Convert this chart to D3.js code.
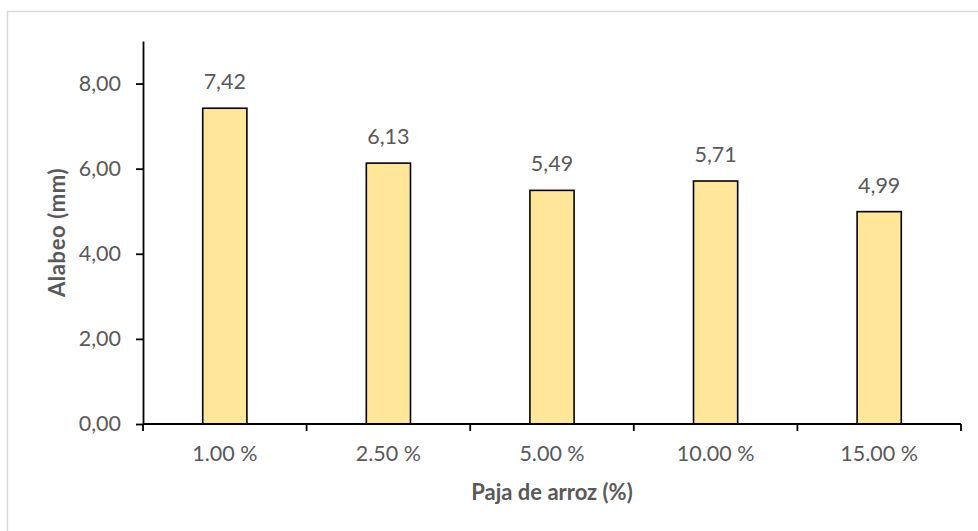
<!DOCTYPE html>
<html>
<head>
<meta charset="utf-8">
<script src="https://cdn.jsdelivr.net/npm/d3@7"></script>
<style>
  html, body { margin: 0; padding: 0; background: #fff; }
  svg { display: block; }
  text { font-family: Lato, "Open Sans", sans-serif; fill: #595959; }
</style>
</head>
<body>
<svg id="chart" width="978" height="531"></svg>
<script>
// Rice straw content (%) vs. warping (mm)
const categories = ["1.00 %", "2.50 %", "5.00 %", "10.00 %", "15.00 %"];
const alabeo = [7.42, 6.13, 5.49, 5.71, 4.99];
const yTicks = [0, 2, 4, 6, 8];

const svg = d3.select("#chart");
const W = 978, H = 531;
const margin = { left: 143, right: 17, top: 41, bottom: 107 };
const plotW = W - margin.left - margin.right;
const plotH = H - margin.top - margin.bottom;
const fontSize = "21.5px";

// chart area frame (left and top edges visible)
svg.append("rect")
  .attr("x", 7.5).attr("y", 11.5)
  .attr("width", W + 20).attr("height", H + 20)
  .attr("fill", "none")
  .attr("stroke", "#d9d9d9")
  .attr("stroke-width", 1.5);

const g = svg.append("g").attr("transform", `translate(${margin.left},${margin.top})`);

const x = d3.scaleBand().domain(categories).range([0, plotW]).paddingInner(0).paddingOuter(0);
const y = d3.scaleLinear().domain([0, 9]).range([plotH, 0]);
const fmt = v => d3.format(".2f")(v).replace(".", ",");

// bars
const barW = x.bandwidth() * 0.27;
g.selectAll("rect.bar")
  .data(categories.map((c, i) => ({ c, v: alabeo[i] })))
  .join("rect")
  .attr("class", "bar")
  .attr("x", d => x(d.c) + (x.bandwidth() - barW) / 2)
  .attr("y", d => y(d.v))
  .attr("width", barW)
  .attr("height", d => y(0) - y(d.v))
  .attr("fill", "#FFE699")
  .attr("stroke", "#000")
  .attr("stroke-width", 1.6);

// value labels
g.selectAll("text.val")
  .data(categories.map((c, i) => ({ c, v: alabeo[i] })))
  .join("text")
  .attr("class", "val")
  .attr("x", d => x(d.c) + x.bandwidth() / 2)
  .attr("y", d => y(d.v) - 19)
  .attr("text-anchor", "middle")
  .style("font-size", fontSize)
  .text(d => fmt(d.v));

// y axis
const yAxis = g.append("g")
  .call(d3.axisLeft(y).tickValues(yTicks).tickFormat(fmt).tickSize(7).tickPadding(15).tickSizeOuter(0));
yAxis.select(".domain").attr("stroke", "#000").attr("stroke-width", 1.8);
yAxis.selectAll(".tick line").attr("stroke", "#000").attr("stroke-width", 1.8);
yAxis.selectAll(".tick text").style("font-size", fontSize).attr("fill", "#595959")
  .style("font-family", "Lato, 'Open Sans', sans-serif");

// x axis with ticks at category boundaries
const xAxisG = g.append("g").attr("transform", `translate(0,${plotH})`);
xAxisG.append("line")
  .attr("x1", 0).attr("x2", plotW)
  .attr("stroke", "#000").attr("stroke-width", 1.8);
const bounds = categories.map(c => x(c)).concat([plotW]);
xAxisG.selectAll("line.tk")
  .data(bounds)
  .join("line")
  .attr("class", "tk")
  .attr("x1", d => d).attr("x2", d => d)
  .attr("y1", 0).attr("y2", 7)
  .attr("stroke", "#000").attr("stroke-width", 1.8);
xAxisG.selectAll("text.cat")
  .data(categories)
  .join("text")
  .attr("class", "cat")
  .attr("x", d => x(d) + x.bandwidth() / 2)
  .attr("y", 37)
  .attr("text-anchor", "middle")
  .style("font-size", fontSize)
  .text(d => d);

// axis titles
svg.append("text")
  .attr("x", margin.left + plotW / 2)
  .attr("y", 500)
  .attr("text-anchor", "middle")
  .style("font-size", "22px")
  .style("font-weight", "bold")
  .text("Paja de arroz (%)");

svg.append("text")
  .attr("transform", `translate(65,${margin.top + plotH / 2}) rotate(-90)`)
  .attr("text-anchor", "middle")
  .style("font-size", "22px")
  .style("font-weight", "bold")
  .style("letter-spacing", "0.6px")
  .text("Alabeo (mm)");
</script>
</body>
</html>
